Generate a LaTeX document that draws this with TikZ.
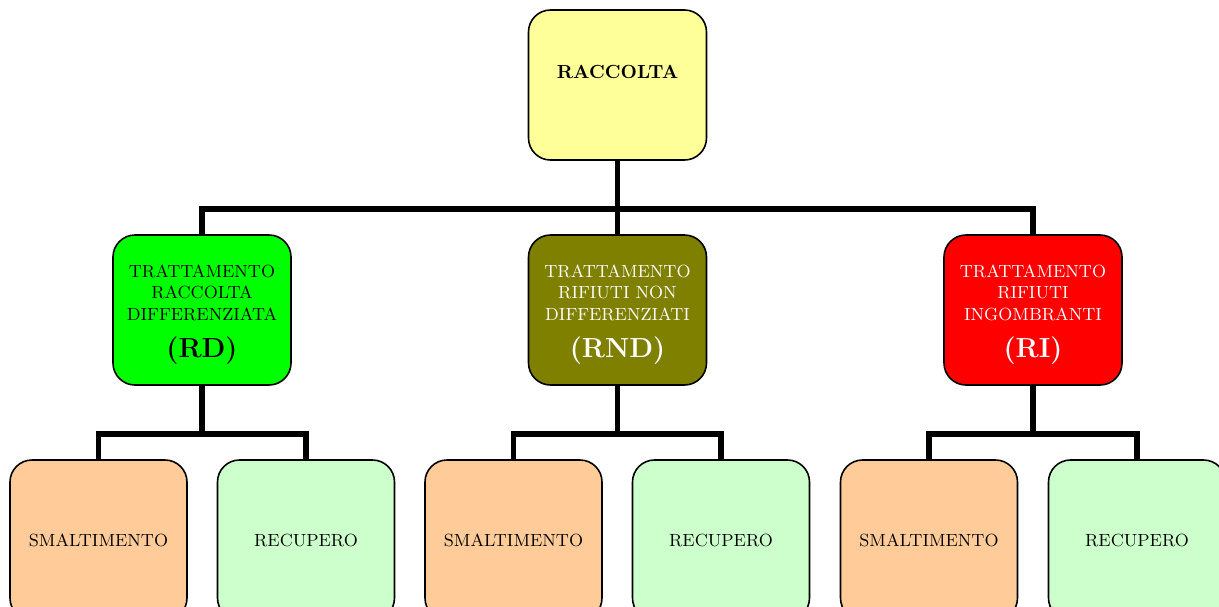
\documentclass[tikz,border=0pt]{standalone}
\usetikzlibrary{positioning}
\definecolor{giallo}{HTML}{FFFF99}
\definecolor{verde}{HTML}{00FF00}
\definecolor{oliva}{HTML}{808000}
\definecolor{rosso}{HTML}{FF0000}
\definecolor{pesca}{HTML}{FFCC99}
\definecolor{verdino}{HTML}{CCFFCC}
\tikzstyle{box} = [draw=black,line width=0.8pt,rounded corners=11pt,minimum width=89pt,minimum height=75pt,align=center,inner sep=2pt,font=\fontsize{8.8}{10.6}\selectfont]
\tikzstyle{foglia} = [box,minimum width=88.5pt,minimum height=80pt]
\tikzstyle{conn} = [line width=2.8pt,draw=black]
\newcommand{\sigla}[1]{\\[8pt]{\fontsize{13.8}{16}\selectfont\bfseries #1}}
\newcommand{\giu}{\rule{0pt}{11pt}}

\begin{document}
\begin{tikzpicture}[x=0.5pt,y=-0.5pt]
        \useasboundingbox (0,0) rectangle (1219,606);
        \clip (0,0) rectangle (1219,606);

        \node (racc) [box, fill=giallo] at (617.5,85) {\rule[-13pt]{0pt}{0pt}\fontsize{9.5}{11}\selectfont\bfseries RACCOLTA};

        \node (rd) [box, fill=verde] at (202,310) {\giu TRATTAMENTO\\RACCOLTA\\DIFFERENZIATA\sigla{(RD)}};
        \node (rnd) [box, fill=oliva, text=white] at (617.5,310) {\giu TRATTAMENTO\\RIFIUTI NON\\DIFFERENZIATI\sigla{(RND)}};
        \node (ri) [box, fill=rosso, text=white] at (1033,310) {\giu TRATTAMENTO\\RIFIUTI\\INGOMBRANTI\sigla{(RI)}};

        \node (sm1) [foglia, fill=pesca] at (98.5,540) {SMALTIMENTO};
        \node (rec1) [foglia, fill=verdino] at (306,540) {RECUPERO};
        \node (sm2) [foglia, fill=pesca] at (513.5,540) {SMALTIMENTO};
        \node (rec2) [foglia, fill=verdino] at (721,540) {RECUPERO};
        \node (sm3) [foglia, fill=pesca] at (929,540) {SMALTIMENTO};
        \node (rec3) [foglia, fill=verdino] at (1137,540) {RECUPERO};

        % raccolta -> trattamenti
        \draw[conn] (racc.south) -- (rnd.north);
        \draw[conn] (rd.north) -- ++(0,-25) -| (ri.north);

        % trattamenti -> smaltimento / recupero
        \draw[conn] (rd.south) -- ++(0,50);
        \draw[conn] (sm1.north) -- ++(0,-25) -| (rec1.north);
        \draw[conn] (rnd.south) -- ++(0,50);
        \draw[conn] (sm2.north) -- ++(0,-25) -| (rec2.north);
        \draw[conn] (ri.south) -- ++(0,50);
        \draw[conn] (sm3.north) -- ++(0,-25) -| (rec3.north);

    \end{tikzpicture}
\end{document}
